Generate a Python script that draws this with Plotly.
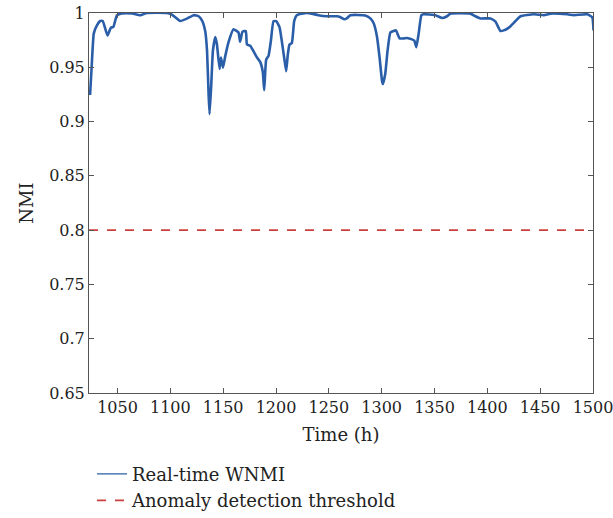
import plotly.graph_objects as go

# Real-time WNMI samples (time in hours, NMI value)
time_h = [1024, 1025.5, 1027.5, 1030.5, 1033.6, 1036, 1040.5, 1043.7, 1046, 1049.4,
          1054, 1064, 1071.5, 1077.8, 1096.8, 1101.5, 1109.4, 1115.7, 1122, 1126.7,
          1130, 1133, 1134.7, 1136.2, 1137.1, 1138.7, 1140.3, 1142.5, 1144, 1146.6,
          1147.9, 1149.8, 1152, 1155, 1159.8, 1164.5, 1166, 1168.3, 1171.4, 1172.5,
          1175.6, 1182, 1185, 1187.5, 1188.8, 1190.7, 1192.9, 1195.1, 1197.6, 1200.2,
          1203.3, 1205.5, 1207.7, 1209.6, 1211.2, 1212.7, 1215, 1217.2, 1219.7, 1229,
          1233.9, 1240, 1248, 1257.6, 1260.6, 1264.4, 1266.9, 1270.3, 1284.5, 1289.3,
          1292.4, 1295.6, 1298, 1300.3, 1301.2, 1303.4, 1305.6, 1308.2, 1311.3, 1313.5,
          1314.5, 1317, 1320.8, 1324, 1328.7, 1330.9, 1332.8, 1335, 1337.6, 1339.8,
          1350.9, 1357.2, 1361.9, 1365, 1384, 1388.7, 1393.5, 1403, 1407.7, 1412.4,
          1415.6, 1420.4, 1426.7, 1431.4, 1444, 1453.5, 1459.8, 1475.6, 1481.9, 1494.5,
          1499.3, 1500.5]
wnmi = [0.9245, 0.950, 0.981, 0.9886, 0.9926, 0.9926, 0.9793, 0.9865, 0.987, 0.9979,
        0.9995, 0.9995, 0.9979, 1.0, 1.0, 0.9985, 0.9926, 0.9948, 0.998, 0.997,
        0.993, 0.9833, 0.9655, 0.925, 0.9069, 0.934, 0.9655, 0.9778, 0.9716, 0.9485,
        0.959, 0.9497, 0.9605, 0.973, 0.985, 0.982, 0.9735, 0.9828, 0.9834, 0.971,
        0.9698, 0.959, 0.955, 0.9457, 0.929, 0.957, 0.9605, 0.974, 0.9925, 0.9925,
        0.987, 0.974, 0.959, 0.9463, 0.962, 0.9708, 0.9724, 0.9925, 0.998, 1.0,
        0.9994, 0.998, 0.997, 0.997, 0.9963, 0.9943, 0.995, 0.998, 0.9978, 0.995,
        0.9905, 0.978, 0.959, 0.9377, 0.9346, 0.944, 0.9655, 0.982, 0.9835, 0.984,
        0.982, 0.9766, 0.9766, 0.977, 0.9757, 0.9745, 0.9685, 0.981, 0.998, 0.9988,
        0.998, 0.9954, 0.997, 0.9994, 0.9994, 0.997, 0.995, 0.995, 0.992, 0.9834,
        0.984, 0.9865, 0.9926, 0.997, 0.9988, 0.998, 0.9994, 0.9988, 0.998, 0.9988,
        0.996, 0.984]

threshold = 0.8
x_range = [1023, 1500]
y_ticks = [0.65, 0.7, 0.75, 0.8, 0.85, 0.9, 0.95, 1.0]
y_tick_labels = ["0.65", "0.7", "0.75", "0.8", "0.85", "0.9", "0.95", "1"]
x_ticks = [1050, 1100, 1150, 1200, 1250, 1300, 1350, 1400, 1450, 1500]

FONT = "DejaVu Serif"
BLUE = "#2a5ea8"
RED = "#c9403f"

fig = go.Figure()
fig.add_trace(go.Scatter(
    x=time_h, y=wnmi, mode="lines", name="Real-time WNMI",
    legendgroup="wnmi", showlegend=False,
    line=dict(color=BLUE, width=2.6, shape="spline", smoothing=0.4),
))
# thin legend entry for the WNMI curve
fig.add_trace(go.Scatter(
    x=[None], y=[None], mode="lines", name="Real-time WNMI",
    legendgroup="wnmi", line=dict(color=BLUE, width=1.3),
))
fig.add_trace(go.Scatter(
    x=x_range, y=[threshold, threshold], mode="lines",
    name="Anomaly detection threshold",
    line=dict(color=RED, width=1.8, dash="dash"),
))

axis_common = dict(
    showline=True, linecolor="#555555", linewidth=1, mirror="ticks",
    ticks="inside", ticklen=5, tickcolor="#555555", showgrid=False,
    zeroline=False, automargin=False, ticklabeloverflow="allow",
    tickfont=dict(family=FONT, size=16, color="#222222"),
)

fig.update_layout(
    width=613, height=518,
    margin=dict(l=89, r=20, t=13, b=125, autoexpand=False),
    paper_bgcolor="white", plot_bgcolor="white",
    font=dict(family=FONT, size=18, color="#222222"),
    xaxis=dict(range=x_range, tickvals=x_ticks,
               title=dict(text="Time (h)", font=dict(family=FONT, size=18), standoff=12),
               **axis_common),
    yaxis=dict(range=[0.65, 1.0], tickvals=y_ticks, ticktext=y_tick_labels,
               title=dict(text="NMI", font=dict(family=FONT, size=18), standoff=10),
               **axis_common),
    legend=dict(x=0.006, y=-0.165, xanchor="left", yanchor="top",
                bgcolor="rgba(0,0,0,0)", font=dict(family=FONT, size=18),
                tracegroupgap=0, itemwidth=30),
    showlegend=True,
)

fig.write_html("out.html")
